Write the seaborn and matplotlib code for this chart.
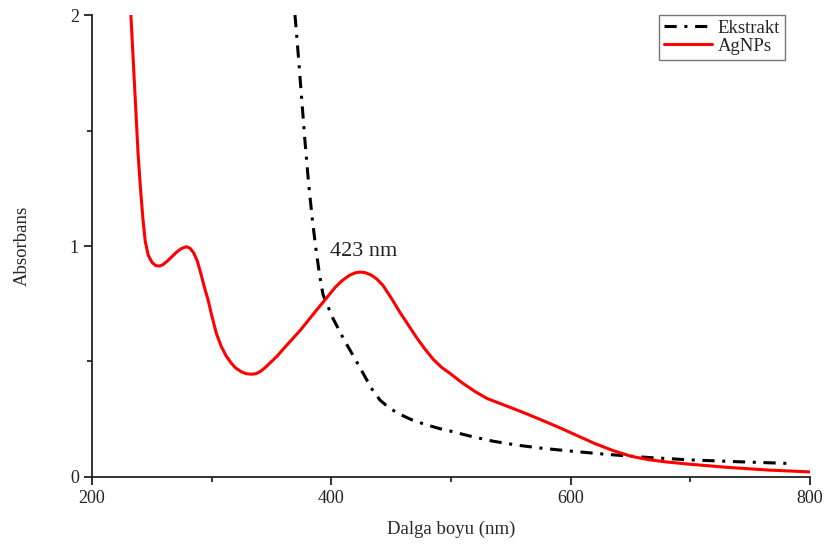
import pandas as pd
import seaborn as sns
import matplotlib.pyplot as plt
from matplotlib.ticker import MultipleLocator

# AgNPs absorbance spectrum
agnp_nm = [232.5, 234.5, 236.5, 238.5, 240.5, 242.5, 244.5, 247, 250, 253, 256, 259,
           263, 267, 271, 275, 279, 282, 285, 288, 291, 294, 297, 300, 304, 308,
           312, 316, 320, 325, 329, 333, 337, 341, 345, 350, 355, 360, 367, 374,
           381, 388, 396, 403, 409, 415, 420, 424, 428, 433, 438, 443, 450, 457,
           464, 471, 478, 485, 492, 500, 510, 520, 530, 545, 560, 575, 590, 605,
           620, 635, 650, 665, 680, 700, 730, 765, 800]
agnp_abs = [2.0, 1.8, 1.6, 1.4, 1.25, 1.12, 1.02, 0.96, 0.93, 0.916, 0.913, 0.918,
            0.935, 0.955, 0.975, 0.99, 0.997, 0.99, 0.97, 0.935, 0.88, 0.82, 0.766, 0.70,
            0.62, 0.565, 0.525, 0.495, 0.472, 0.455, 0.447, 0.445, 0.447, 0.458, 0.475,
            0.5, 0.525, 0.555, 0.595, 0.635, 0.68, 0.725, 0.775, 0.82, 0.85, 0.873, 0.884,
            0.887, 0.885, 0.875, 0.857, 0.83, 0.775, 0.715, 0.66, 0.605, 0.555, 0.51,
            0.475, 0.445, 0.405, 0.37, 0.34, 0.31, 0.28, 0.248, 0.215, 0.18, 0.145,
            0.115, 0.09, 0.075, 0.065, 0.055, 0.042, 0.03, 0.022]

# Ekstrakt absorbance spectrum
ext_nm = [369.6, 372, 375, 378, 381, 384, 387, 390, 393, 397, 401, 406, 411, 415.5,
          421, 428, 434, 440.6, 448, 457, 467, 478, 490, 500, 515, 535, 555, 575,
          600, 630, 666, 700, 740, 786]
ext_abs = [2.0, 1.85, 1.65, 1.45, 1.27, 1.12, 0.99, 0.88, 0.79, 0.74, 0.69, 0.64,
           0.59, 0.55, 0.5, 0.435, 0.38, 0.333, 0.3, 0.272, 0.248, 0.228, 0.21, 0.198,
           0.178, 0.155, 0.138, 0.125, 0.112, 0.098, 0.084, 0.074, 0.066, 0.058]

df_ext = pd.DataFrame({'nm': ext_nm, 'abs': ext_abs})
df_agnp = pd.DataFrame({'nm': agnp_nm, 'abs': agnp_abs})

sns.set_style("ticks")
plt.rcParams['font.family'] = ['Liberation Serif', 'DejaVu Serif']

fig = plt.figure(figsize=(8.25, 5.46), dpi=100)
ax = fig.add_axes([0.1115, 0.1264, 0.8705, 0.8461])

sns.lineplot(data=df_ext, x='nm', y='abs', ax=ax, color='black', lw=2.2,
             linestyle=(0, (4, 2.5, 1, 2.5)), label='Ekstrakt', sort=False)
sns.lineplot(data=df_agnp, x='nm', y='abs', ax=ax, color='#ff0000', lw=2.2,
             label='AgNPs', sort=False)

ax.text(398.5, 0.975, '423 nm', fontsize=16, color='#222222', va='center')

ax.set_xlim(200, 800)
ax.set_ylim(0, 2)
ax.xaxis.set_major_locator(MultipleLocator(200))
ax.xaxis.set_minor_locator(MultipleLocator(100))
ax.yaxis.set_major_locator(MultipleLocator(1))
ax.yaxis.set_minor_locator(MultipleLocator(0.5))
ax.tick_params(which='major', length=6, width=1.3, labelsize=13, colors='#222222')
ax.tick_params(which='minor', length=3.5, width=1.3)
for s in ['left', 'bottom']:
    ax.spines[s].set_linewidth(1.3)
    ax.spines[s].set_color('#222222')
sns.despine(ax=ax)

ax.set_xlabel('Dalga boyu (nm)', fontsize=13.5, labelpad=10)
ax.set_ylabel('Absorbans', fontsize=13.5, labelpad=28)

leg = ax.legend(loc='upper right', fontsize=13.5, frameon=True, fancybox=False,
                handlelength=2.6, handletextpad=0.3, borderpad=0.25,
                labelspacing=0.05, borderaxespad=0, bbox_to_anchor=(0.965, 1.0))
leg.get_frame().set_edgecolor('#555555')
leg.get_frame().set_linewidth(1.0)

plt.savefig('out.png', dpi=100)
